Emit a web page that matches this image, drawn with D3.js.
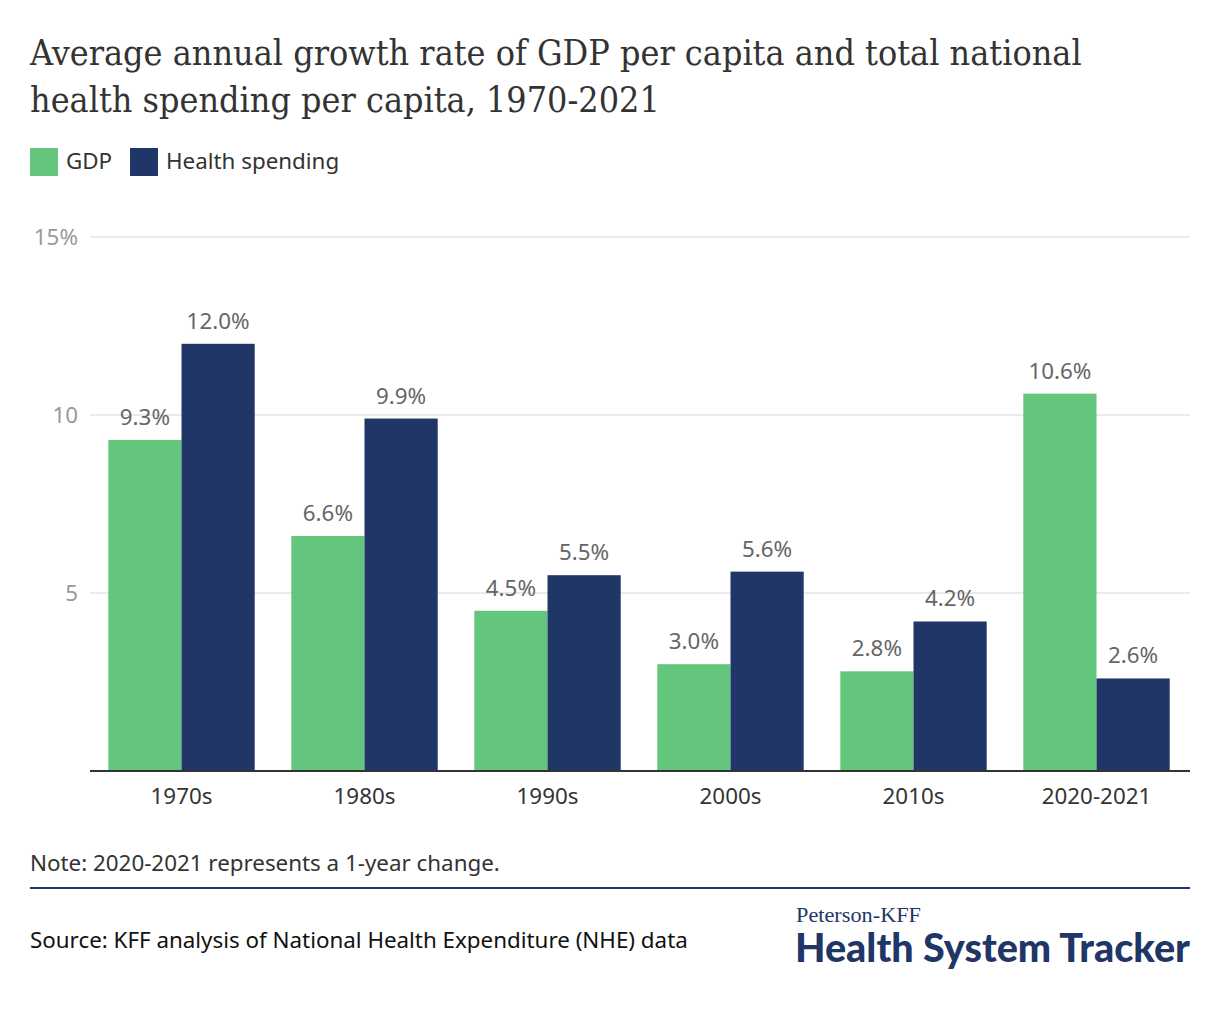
<!DOCTYPE html>
<html><head><meta charset="utf-8">
<script src="https://cdn.jsdelivr.net/npm/d3@7"></script>
<style>body{margin:0;background:#fff}</style>
</head><body>
<svg id="c" width="1220" height="1020"></svg>
<script>
const categories = ["1970s","1980s","1990s","2000s","2010s","2020-2021"];
const seriesNames = ["GDP","Health spending"];
const gdpValues = [9.3,6.6,4.5,3.0,2.8,10.6];
const healthValues = [12.0,9.9,5.5,5.6,4.2,2.6];
const yTicks = [5,10,15];
const yTickLabels = ["5","10","15%"];
const colors = ["#64c67c","#1f3666"];

const svg = d3.select("#c");
const sans = "'Noto Sans', 'Open Sans', sans-serif";
const serif = "'DejaVu Serif', 'Liberation Serif', serif";

function fitSize(text, family, weight, target, base, stretch){
  const t = svg.append("text").attr("font-family",family).attr("font-weight",weight).attr("font-size",base)
    .style("font-stretch",stretch||"normal").text(text);
  const w = t.node().getComputedTextLength();
  t.remove();
  return base*target/w;
}
const fs = fitSize("Note: 2020-2021 represents a 1-year change.", sans, 400, 470, 20);
const tfs = fitSize("Average annual growth rate of GDP per capita and total national", serif, 400, 1052, 30, "condensed");

// Title
const title = svg.append("text").attr("font-family", serif).style("font-stretch","condensed").attr("font-size", tfs).attr("fill","#333");
title.append("tspan").attr("x",30).attr("y",65).text("Average annual growth rate of GDP per capita and total national");
title.append("tspan").attr("x",30).attr("y",112).text("health spending per capita, 1970-2021");

// Legend
const leg = svg.append("g");
const legX = [30,130];
seriesNames.forEach((n,i)=>{
  leg.append("rect").attr("x",legX[i]).attr("y",148).attr("width",28).attr("height",28).attr("fill",colors[i]);
  leg.append("text").attr("x",legX[i]+36).attr("y",169).attr("font-family",sans).attr("font-size",fs).attr("fill","#333").text(n);
});

const x0 = d3.scaleBand().domain(categories).range([90,1188]).paddingInner(0.2).paddingOuter(0.1);
const x1 = d3.scaleBand().domain(seriesNames).range([0,x0.bandwidth()]);
const y = d3.scaleLinear().domain([0,15]).range([771,237]);

// grid
const g = svg.append("g");
g.selectAll(".grid").data(yTicks).join("line")
  .attr("x1",90).attr("x2",1190).attr("y1",d=>y(d)).attr("y2",d=>y(d))
  .attr("stroke","#e3e3e3").attr("stroke-width",1.5);
g.selectAll(".yl").data(yTicks).join("text")
  .attr("x",78).attr("y",d=>y(d)).attr("dy","0.35em").attr("text-anchor","end")
  .attr("font-family",sans).attr("font-size",fs).attr("fill","#999")
  .text((d,i)=>yTickLabels[i]);

const data = categories.map((c,i)=>({c, vals:[gdpValues[i],healthValues[i]]}));
const groups = svg.append("g").selectAll("g").data(data).join("g")
  .attr("transform",d=>`translate(${x0(d.c)},0)`);
groups.selectAll("rect").data(d=>d.vals.map((v,i)=>({v,s:seriesNames[i],i}))).join("rect")
  .attr("x",d=>x1(d.s)).attr("width",x1.bandwidth())
  .attr("y",d=>y(d.v)).attr("height",d=>y(0)-y(d.v)).attr("fill",d=>colors[d.i]);
groups.selectAll("text").data(d=>d.vals.map((v,i)=>({v,s:seriesNames[i],i}))).join("text")
  .attr("x",d=>x1(d.s)+x1.bandwidth()/2).attr("y",d=>y(d.v)-15)
  .attr("text-anchor","middle").attr("font-family",sans).attr("font-size",fs).attr("fill","#666")
  .text(d=>d.v.toFixed(1)+"%");

// baseline
svg.append("line").attr("x1",90).attr("x2",1190).attr("y1",y(0)).attr("y2",y(0)).attr("stroke","#333").attr("stroke-width",2);

// x labels
svg.append("g").selectAll("text").data(categories).join("text")
  .attr("x",d=>x0(d)+x0.bandwidth()/2).attr("y",804).attr("text-anchor","middle")
  .attr("font-family",sans).attr("font-size",fs).attr("fill","#333").text(d=>d);

// footer
svg.append("text").attr("x",30).attr("y",871).attr("font-family",sans).attr("font-size",fs).attr("fill","#333")
  .text("Note: 2020-2021 represents a 1-year change.");
svg.append("line").attr("x1",30).attr("x2",1190).attr("y1",888).attr("y2",888).attr("stroke","#1f3666").attr("stroke-width",2);
svg.append("text").attr("x",30).attr("y",948).attr("font-family",sans).attr("font-size",fs).attr("fill","#111")
  .text("Source: KFF analysis of National Health Expenditure (NHE) data");
svg.append("text").attr("x",796).attr("y",922).attr("font-family","'Liberation Serif', serif").attr("font-size",20).attr("fill","#1f3666")
  .attr("textLength",125).attr("lengthAdjust","spacingAndGlyphs")
  .text("Peterson-KFF");
svg.append("text").attr("x",795).attr("y",962).attr("font-family","Lato, sans-serif").attr("font-weight",900).attr("font-size",39).attr("fill","#1f3666")
  .attr("textLength",395).attr("lengthAdjust","spacingAndGlyphs")
  .text("Health System Tracker");
</script>
</body></html>
